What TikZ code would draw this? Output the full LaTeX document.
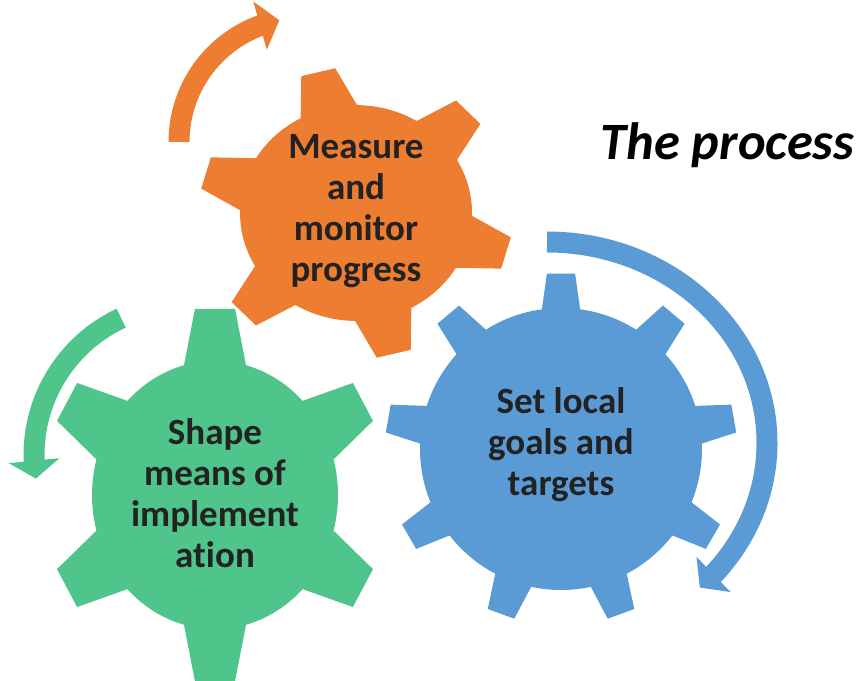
\documentclass[tikz,border=0pt]{standalone}
\usepackage{fontspec}
\setmainfont[Ligatures=NoCommon]{Carlito}
\usetikzlibrary{arrows.meta,bending}
\definecolor{gearorange}{HTML}{ED7D31}
\definecolor{gearblue}{HTML}{5B9BD5}
\definecolor{geargreen}{HTML}{4FC58C}
\definecolor{labelgray}{HTML}{222222}

\begin{document}
\begin{tikzpicture}[x=1pt, y=1pt]
    \useasboundingbox (0,0) rectangle (856,680);
    \clip (0,0) rectangle (856,680);
    \coordinate (mc) at (356,467);
    \coordinate (sc) at (561,231);
    \coordinate (ic) at (215,185);
    % gears
    \begin{scope}[shift={(mc)}, yscale=.93]
        \fill[gearorange] (89.5:116) \foreach \a in {104,164,...,404} { -- ({\a-14.5}:116) -- ({\a-6.4}:157) -- ({\a+6.4}:157) -- ({\a+14.5}:116) arc[start angle=\a+14.5, end angle=\a+45.5, radius=116] } -- cycle;
    \end{scope}
    \begin{scope}[shift={(sc)}]
        \fill[gearblue] (82.2:141) \foreach \a in {90,130,...,410} { -- ({\a-7.8}:141) -- ({\a-4.6}:176) -- ({\a+4.6}:176) -- ({\a+7.8}:141) arc[start angle=\a+7.8, end angle=\a+32.2, radius=141] } -- cycle;
    \end{scope}
    \begin{scope}[shift={(ic)}, yscale=1.09]
        \fill[geargreen] (75.4:123) \foreach \a in {90,150,...,390} { -- ({\a-14.6}:123) -- ({\a-6.7}:172) -- ({\a+6.7}:172) -- ({\a+14.6}:123) arc[start angle=\a+14.6, end angle=\a+45.4, radius=123] } -- cycle;
    \end{scope}
    % turning arrows
    \begin{scope}
        \tikzstyle{every path}=[line width=21pt]
        \coordinate (ma) at (303,538);
        \coordinate (sa) at (547,237);
        \coordinate (ia) at (185,225);
        \draw[gearorange, -{Triangle[width=49pt,length=20pt]}] (ma) ++(180:124) arc[start angle=180, end angle=101, radius=124];
        \draw[gearblue, -{Triangle[width=48pt,length=19pt]}] (sa) ++(90:201) arc[start angle=90, end angle=-46, x radius=220, y radius=201];
        \draw[geargreen, -{Triangle[width=50pt,length=18pt]}] (ia) ++(115:151) arc[start angle=115, end angle=189, radius=151];
    \end{scope}
    % labels
    \begin{scope}
        \tikzstyle{every node}=[align=center, text=labelgray, font=\bfseries\fontsize{37}{41}\selectfont]
        \node (measure) at (356,469) {Measure\\and\\monitor\\progress};
        \node (setgoals) at (561,235) {Set local\\goals and\\targets};
        \node (shape) at (215,187) {Shape\\means of\\implement\\ation};
        \node[anchor=base west, text=black, font=\bfseries\itshape\fontsize{52.5}{60}\selectfont] (title) at (597,520) {The process};
    \end{scope}
\end{tikzpicture}
\end{document}
